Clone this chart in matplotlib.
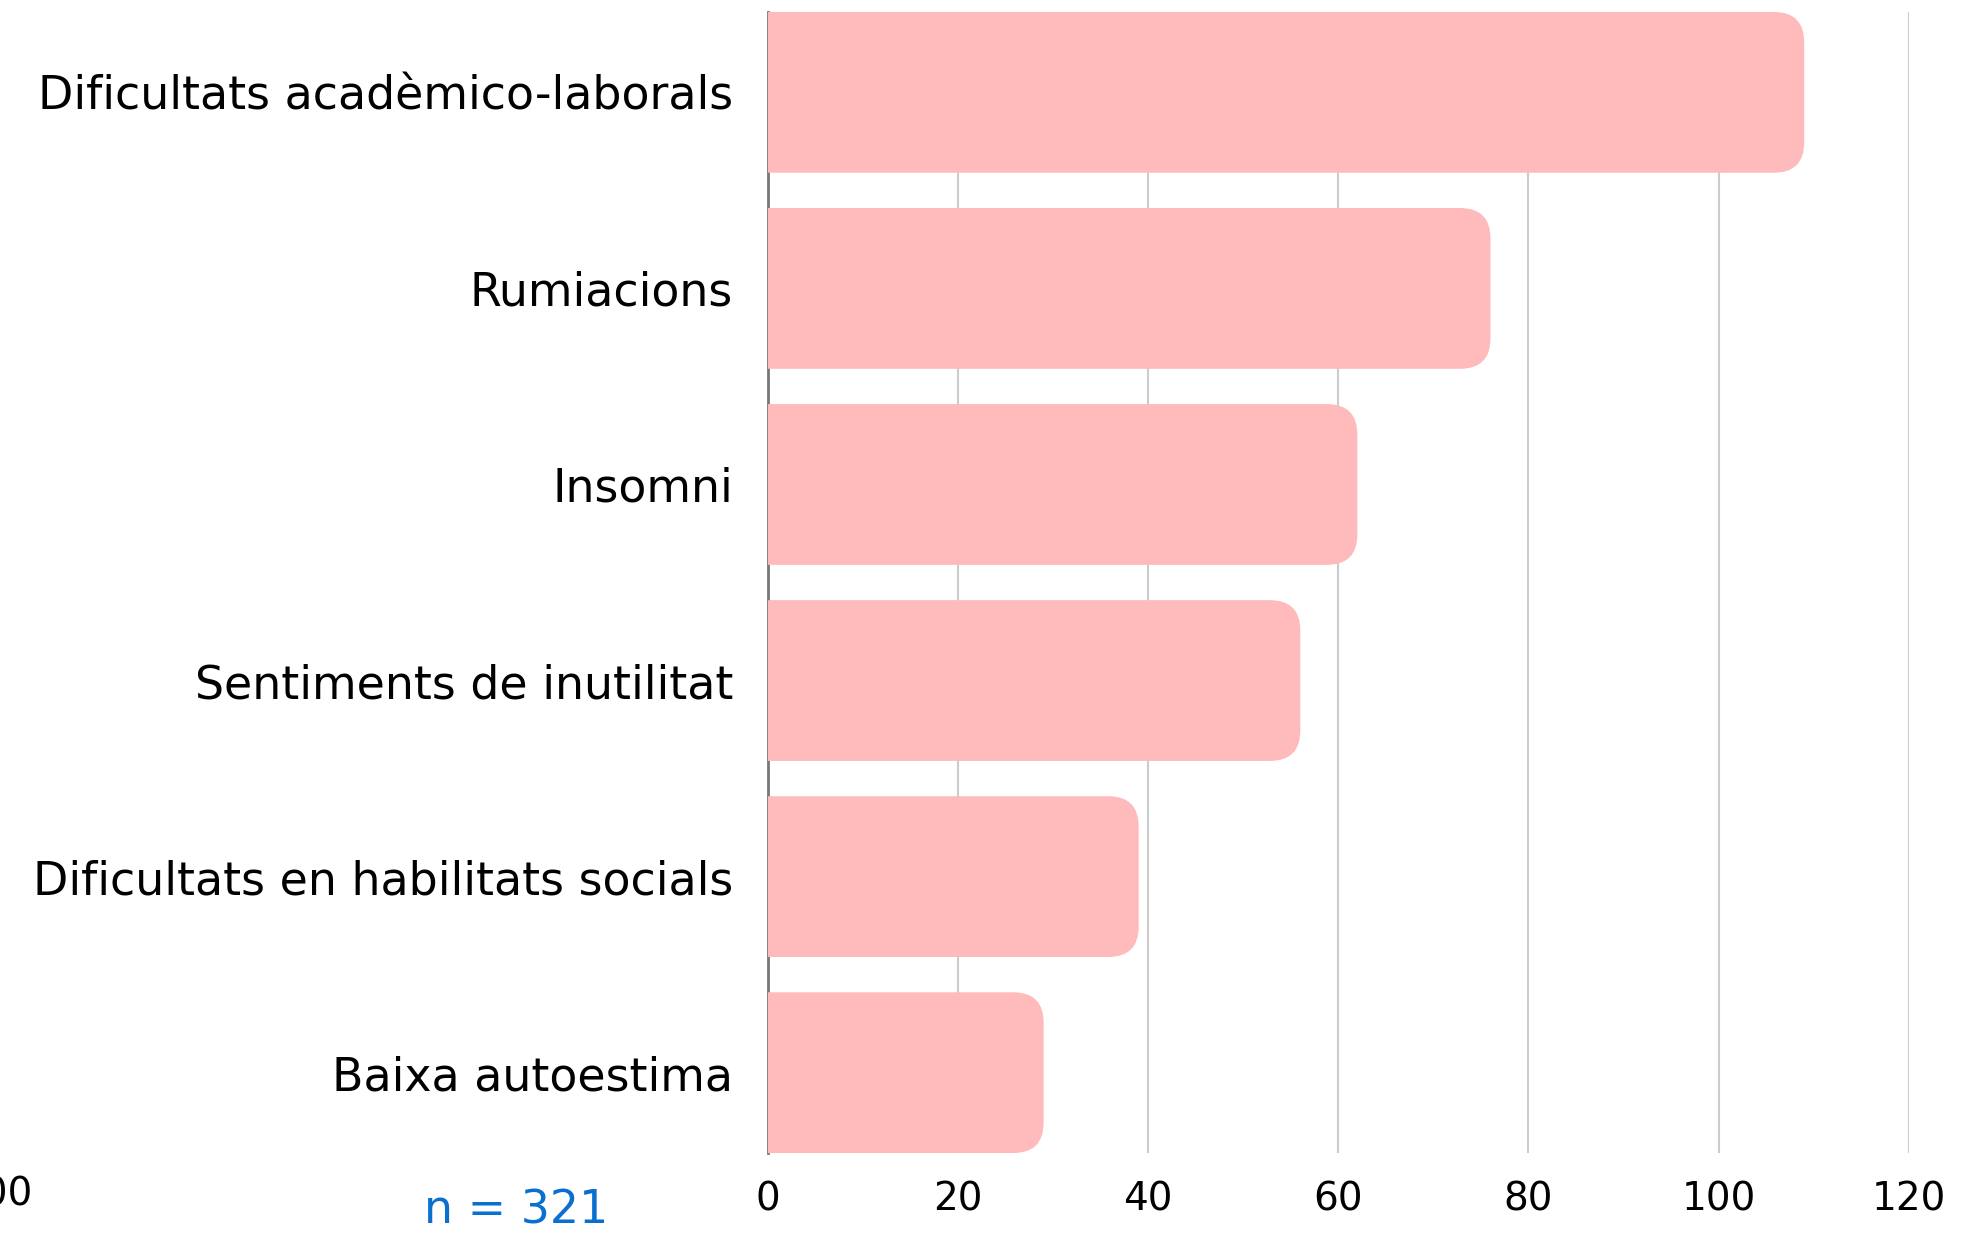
import matplotlib.pyplot as plt
from matplotlib.patches import FancyBboxPatch

# Dades del gràfic
categories = ["Dificultats acadèmico-laborals", "Rumiacions", "Insomni",
              "Sentiments de inutilitat", "Dificultats en habilitats socials",
              "Baixa autoestima"]
values = [109, 76, 62, 56, 39, 29]
xticks = [0, 20, 40, 60, 80, 100, 120]
n_text = "n = 321"

bar_color = "#FFBABB"
font = "DejaVu Sans"

fig = plt.figure(figsize=(19.67, 12.34), dpi=100)
ax = fig.add_axes([0.3904, 0.0656, 0.5800, 0.9247])

ax.set_xlim(0, 120)
ax.set_ylim(len(categories) - 1 + 0.41, -0.41)

# barres amb cantonades arrodonides a la dreta
h = 0.82
for i, v in enumerate(values):
    p = FancyBboxPatch((-10, i - h / 2), v + 10, h,
                       boxstyle="round,pad=0,rounding_size=3.2",
                       mutation_aspect=0.0485,
                       facecolor=bar_color, edgecolor="none", zorder=3)
    ax.add_patch(p)

ax.set_yticks(range(len(categories)))
ax.set_yticklabels(categories, fontsize=33, family=font)
ax.set_xticks(xticks)
ax.set_xticklabels([str(t) for t in xticks], fontsize=28, family=font)
ax.tick_params(axis="both", length=0)
ax.tick_params(axis="y", pad=25)
ax.tick_params(axis="x", pad=20)

ax.grid(axis="x", color="#CCCCCC", linewidth=1.5, zorder=0)
ax.set_axisbelow(True)
for s in ["top", "right", "bottom"]:
    ax.spines[s].set_visible(False)
ax.spines["left"].set_color("#777777")
ax.spines["left"].set_linewidth(2)
ax.spines["left"].set_zorder(1)

# etiqueta tallada a l'esquerra i la mida de la mostra
fig.text(-0.002, 0.032, "100", fontsize=28, family=font, ha="center", va="center")
fig.text(0.2625, 0.019, n_text, fontsize=33, family=font, color="#0A6FCF",
         ha="center", va="center")

fig.savefig("out.png", dpi=100)
